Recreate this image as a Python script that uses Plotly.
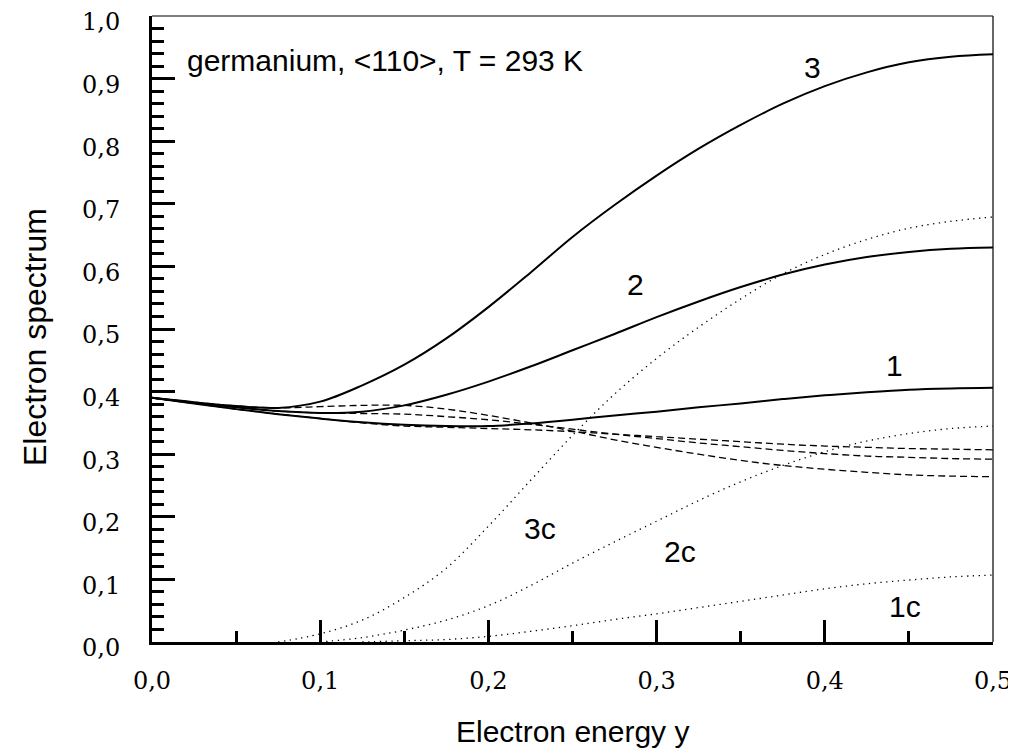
import plotly.graph_objects as go

# ---- data ----
energy = [0.0, 0.025, 0.05, 0.075, 0.1, 0.125, 0.15, 0.175, 0.2, 0.225, 0.25,
          0.275, 0.3, 0.325, 0.35, 0.375, 0.4, 0.425, 0.45, 0.475, 0.5]

total_1 = [0.390, 0.381, 0.372, 0.364, 0.357, 0.351, 0.347, 0.345, 0.345, 0.349, 0.355,
           0.362, 0.368, 0.375, 0.381, 0.388, 0.394, 0.399, 0.403, 0.405, 0.406]
total_2 = [0.390, 0.382, 0.375, 0.369, 0.366, 0.368, 0.378, 0.395, 0.416, 0.440, 0.466,
           0.492, 0.519, 0.544, 0.567, 0.587, 0.603, 0.615, 0.623, 0.628, 0.630]
total_3 = [0.390, 0.383, 0.377, 0.374, 0.384, 0.410, 0.443, 0.485, 0.535, 0.590, 0.647,
           0.698, 0.745, 0.788, 0.826, 0.860, 0.888, 0.910, 0.926, 0.935, 0.939]

incoh_1 = [0.390, 0.381, 0.372, 0.364, 0.357, 0.350, 0.345, 0.343, 0.341, 0.339, 0.336,
           0.332, 0.328, 0.324, 0.320, 0.316, 0.313, 0.311, 0.309, 0.308, 0.307]
incoh_2 = [0.390, 0.382, 0.375, 0.369, 0.366, 0.365, 0.364, 0.360, 0.355, 0.348, 0.340,
           0.332, 0.325, 0.318, 0.312, 0.306, 0.301, 0.297, 0.295, 0.293, 0.292]
incoh_3 = [0.390, 0.383, 0.377, 0.374, 0.376, 0.378, 0.378, 0.372, 0.362, 0.350, 0.337,
           0.323, 0.311, 0.300, 0.290, 0.282, 0.276, 0.271, 0.267, 0.265, 0.264]

coh_1 = [None, None, None, None, None, 0.0, 0.002, 0.004, 0.009, 0.017, 0.026,
         0.036, 0.045, 0.055, 0.065, 0.075, 0.085, 0.093, 0.099, 0.104, 0.107]
coh_2 = [None, None, None, None, 0.0, 0.007, 0.019, 0.035, 0.058, 0.090, 0.126,
         0.160, 0.193, 0.226, 0.256, 0.282, 0.304, 0.321, 0.333, 0.341, 0.345]
coh_3 = [None, None, None, 0.0, 0.013, 0.035, 0.071, 0.118, 0.185, 0.258, 0.330,
         0.396, 0.453, 0.503, 0.548, 0.588, 0.619, 0.643, 0.661, 0.672, 0.679]

x_tickvals = [0.0, 0.1, 0.2, 0.3, 0.4, 0.5]
x_ticktext = ["0,0", "0,1", "0,2", "0,3", "0,4", "0,5"]
y_tickvals = [0.0, 0.1, 0.2, 0.3, 0.4, 0.5, 0.6, 0.7, 0.8, 0.9, 1.0]
y_ticktext = ["0,0", "0,1", "0,2", "0,3", "0,4", "0,5", "0,6", "0,7", "0,8", "0,9", "1,0"]

curve_labels = ["3", "2", "1", "3c", "2c", "1c"]
label_x = [0.3928, 0.2872, 0.4417, 0.2307, 0.3139, 0.4477]
label_y = [0.918, 0.571, 0.442, 0.182, 0.144, 0.056]

title_text = "germanium, <110>, T = 293 K"
x_title = "Electron energy y"
y_title = "Electron spectrum"

# ---- figure ----
fig = go.Figure()

def add(y, dash, width):
    fig.add_trace(go.Scatter(
        x=energy, y=y, mode="lines", connectgaps=False,
        line=dict(color="black", width=width, dash=dash, shape="spline", smoothing=1.0),
        showlegend=False, hoverinfo="skip"))

for ys in (coh_1, coh_2, coh_3):
    add(ys, "1.3px,4.5px", 1.3)
for ys in (incoh_1, incoh_2, incoh_3):
    add(ys, "7px,4px", 1.3)
for ys in (total_1, total_2, total_3):
    add(ys, "solid", 2)

sans = "Liberation Sans, Arial, sans-serif"
label_font = dict(family=sans, size=30, color="black")
for t, xx, yy in zip(curve_labels, label_x, label_y):
    fig.add_annotation(x=xx, y=yy, text=t, showarrow=False, font=label_font,
                       xanchor="center", yanchor="middle")
fig.add_annotation(x=0.0196, y=0.929, text=title_text, showarrow=False, font=label_font,
                   xanchor="left", yanchor="middle")

# axis titles
fig.add_annotation(xref="paper", yref="paper", x=0.5, y=0, yshift=-89,
                   text=x_title, showarrow=False, font=label_font,
                   xanchor="center", yanchor="middle")
fig.add_annotation(xref="paper", yref="paper", x=0, y=0.5, xshift=-117, yshift=-8,
                   text=y_title, showarrow=False, textangle=-90,
                   font=dict(family=sans, size=32, color="black"),
                   xanchor="center", yanchor="middle")

# thin top and right border
fig.add_shape(type="line", xref="paper", yref="paper", x0=0, x1=1, y0=1, y1=1,
              line=dict(color="black", width=1.2))
fig.add_shape(type="line", xref="paper", yref="paper", x0=1, x1=1, y0=0, y1=1,
              line=dict(color="black", width=1.2))

tick_font = dict(family="DejaVu Serif, serif", size=24, color="black")

fig.update_xaxes(
    range=[0, 0.5], showgrid=False, zeroline=False, automargin=False,
    showline=True, linecolor="black", linewidth=3,
    tickmode="array", tickvals=x_tickvals, ticktext=x_ticktext,
    ticks="inside", ticklen=22, tickwidth=2.5, tickcolor="black",
    tickfont=tick_font, ticklabelstandoff=15, ticklabeloverflow="allow",
    minor=dict(dtick=0.05, ticks="inside", ticklen=11, tickwidth=2.5, tickcolor="black", showgrid=False),
)
fig.update_yaxes(
    range=[0, 1.0], showgrid=False, zeroline=False, automargin=False,
    showline=True, linecolor="black", linewidth=3,
    tickmode="array", tickvals=y_tickvals, ticktext=y_ticktext,
    ticks="inside", ticklen=23, tickwidth=2.5, tickcolor="black",
    tickfont=tick_font, ticklabelstandoff=24, ticklabelshift=6, ticklabeloverflow="allow",
    minor=dict(dtick=0.02, ticks="inside", ticklen=12, tickwidth=2.5, tickcolor="black", showgrid=False),
)

# page body has an 8px margin: place the plot area at the reference's page position
fig.update_layout(
    width=1008, height=749,
    margin=dict(l=144, r=23, t=8, b=115),
    plot_bgcolor="white", paper_bgcolor="white",
    showlegend=False,
)

fig.write_html("out.html")
